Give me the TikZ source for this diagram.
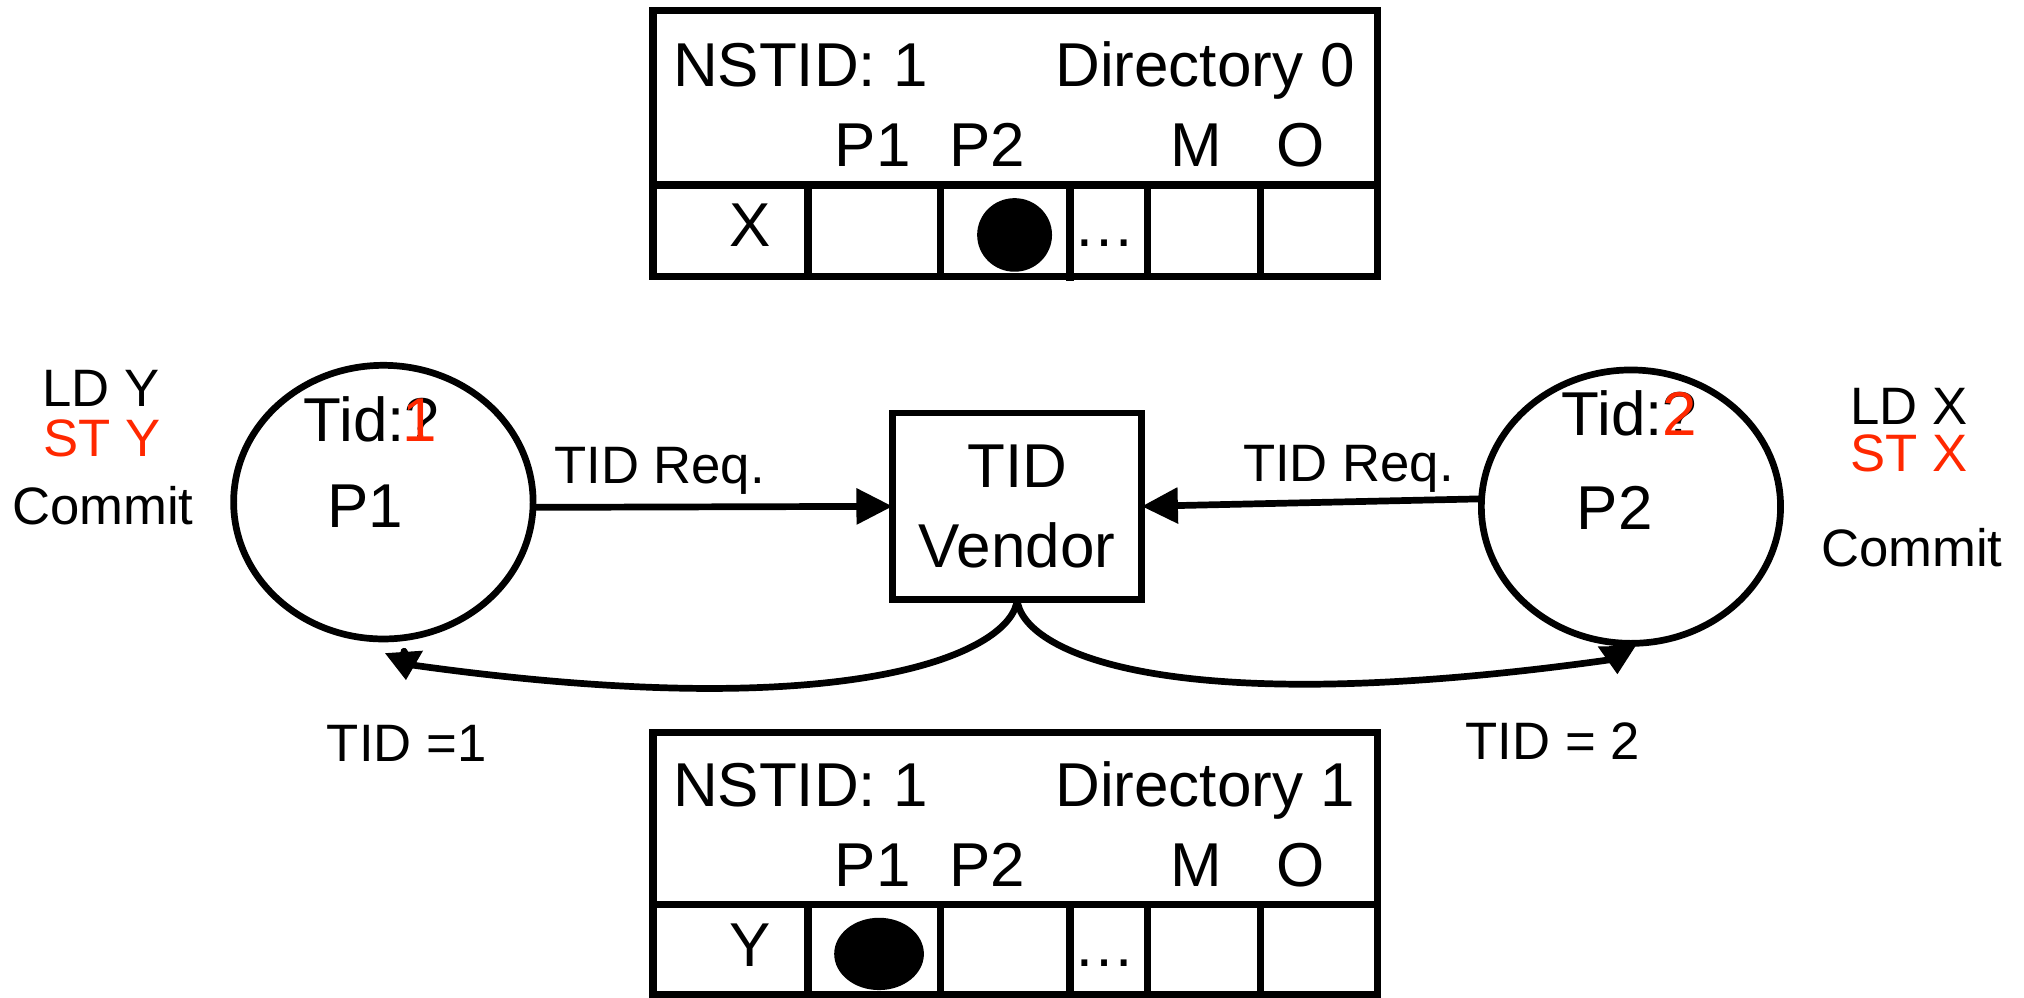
\documentclass[tikz,border=0pt]{standalone}
\usepackage{fontspec}
\setmainfont{Liberation Sans}
\usepackage{tikz}
\usetikzlibrary{arrows.meta, positioning, shapes.geometric}
\definecolor{stred}{RGB}{255,40,0}

\begin{document}
\begin{tikzpicture}[
    x=0.5pt, y=-0.5pt,
    >={Triangle[length=14pt, width=13.5pt]},
    proc/.style={draw, ellipse, line width=2.6pt, inner sep=0pt, outer sep=0pt, minimum width=116pt, minimum height=106pt},
    vendor/.style={draw, rectangle, line width=2.6pt, outer sep=0pt, align=center, minimum width=96.5pt, minimum height=72.25pt, font=\fontsize{24}{31}\selectfont},
    dirbox/.style={draw, rectangle, line width=2.8pt, outer sep=0pt, minimum width=280.6pt},
    token/.style={fill, ellipse, inner sep=0pt},
    bigtext/.style={inner sep=0pt, anchor=base, font=\fontsize{24}{29}\selectfont},
    smalltext/.style={inner sep=0pt, anchor=base, font=\fontsize{20.4}{24}\selectfont},
    conn/.style={line width=2.6pt},
    reply/.style={conn, line join=round, -{Triangle[length=11pt, width=14pt]}},
    cell/.style={line width=2.8pt}
]
\useasboundingbox (0,0) rectangle (1568,773);

% Directory 0
\node[dirbox, minimum height=103pt] (dir0) at (786.4,111) {};
\node[bigtext, anchor=base west] (ns0) at (521,67.2) {NSTID: 1};
\node[bigtext, anchor=base east] (dn0) at (1050,67.2) {Directory 0};
\node[bigtext] (h0p1) at (676,129) {P1};
\node[bigtext] (h0p2) at (765,129) {P2};
\node[bigtext] (h0m) at (926.6,129) {M};
\node[bigtext] (h0o) at (1007.5,129) {O};
\draw[cell] (505.8,143.3) -- (1067,143.3);
\draw[cell] (626,143.3) -- (626,214) (728.6,143.3) -- (728.6,214) (829,143.3) -- (829,218)
    (889,143.3) -- (889,214) (976.5,143.3) -- (976.5,214);
\node[bigtext] (x0) at (581,191) {X};
\node[token, minimum width=29pt, minimum height=28.5pt] (tok0) at (786,182) {};
\node[bigtext] (dots0) at (856,191) {…};

% Directory 1
\node[dirbox, minimum height=101.45pt] (dir1) at (786.4,669.05) {};
\node[bigtext, anchor=base west] (ns1) at (521,625) {NSTID: 1};
\node[bigtext, anchor=base east] (dn1) at (1050,625) {Directory 1};
\node[bigtext] (h1p1) at (676,687) {P1};
\node[bigtext] (h1p2) at (765,687) {P2};
\node[bigtext] (h1m) at (926.6,687) {M};
\node[bigtext] (h1o) at (1007.5,687) {O};
\draw[cell] (505.8,701) -- (1067,701);
\draw[cell] (626,701) -- (626,770.5) (728.6,701) -- (728.6,770.5) (829,701) -- (829,770.5)
    (889,701) -- (889,770.5) (976.5,701) -- (976.5,770.5);
\node[bigtext] (y1) at (581,749) {Y};
\node[token, minimum width=34.75pt, minimum height=28pt] (tok1) at (681,739) {};
\node[bigtext] (dots1) at (856,749) {…};

% Programs
\node[smalltext] (ldy) at (78,315) {LD Y};
\node[smalltext, text=stred] (sty) at (79,353.8) {ST Y};
\node[smalltext] (cmt1) at (79.6,406.7) {Commit};
\node[smalltext] (ldx) at (1479,328.7) {LD X};
\node[smalltext, text=stred] (stx) at (1479,365.4) {ST X};
\node[smalltext] (cmt2) at (1481,439) {Commit};

% Processors
\node[proc] (p1) at (297,389) {};
\node[bigtext] (p1name) at (283,409) {P1};
\node[bigtext, anchor=base west] (p1tid) at (235,342) {Tid:?};
\node[bigtext, anchor=base east, text=stred] (p1num) at ([xshift=-1pt]p1tid.base east) {1};

\node[proc, minimum width=115.9pt, minimum height=105.9pt] (p2) at (1263.5,392.5) {};
\node[bigtext] (p2name) at (1251,410.5) {P2};
\node[bigtext, anchor=base west] (p2tid) at (1209.5,337) {Tid:?};
\node[bigtext, anchor=base east, text=stred] (p2num) at (p2tid.base east) {2};

% TID vendor
\node[vendor] (vendor) at (788,392.25) {TID\\Vendor};

% Requests
\draw[conn, ->] (p1.-2) -- node[smalltext, pos=0.352, yshift=9pt] {TID Req.} (vendor.west);
\draw[conn, ->] (p2.177) -- node[smalltext, pos=0.392, yshift=7.9pt] {TID Req.} (vendor.east);

% Replies
\coordinate (p1in) at (318,515);
\coordinate (p1base) at (313,504.5);
\coordinate (p1tip) at (314.5,527);
\coordinate (p2in) at (1248,511);
\coordinate (p2base) at (1252.5,500);
\coordinate (p2tip) at (1253,522.5);
\draw[reply] (vendor.south) to[out=-95, in=-8, out distance=20pt, in distance=175pt] (p1in) -- (p1base) -- (p1tip);
\draw[reply] (vendor.south) to[out=-85, in=188, out distance=20pt, in distance=175pt] (p2in) -- (p2base) -- (p2tip);
\node[smalltext] (tid1) at (315,590) {TID =1};
\node[smalltext] (tid2) at (1203,588) {TID = 2};

\end{tikzpicture}
\end{document}
